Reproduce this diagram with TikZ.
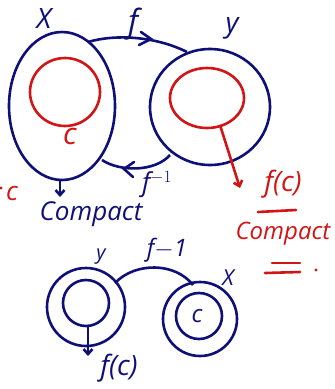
\documentclass[tikz,border=0pt]{standalone}
\usepackage{fontspec}
\setmainfont{Open Sans}
\usetikzlibrary{arrows.meta}
\definecolor{ink}{RGB}{15,15,120}
\definecolor{rd}{RGB}{210,20,20}
\newcommand{\fsz}[1]{\fontsize{#1}{#1}\selectfont\itshape}
\tikzset{
  bl/.style={draw=ink, line width=2.6pt},
  rl/.style={draw=rd, line width=2.6pt},
  lab/.style={text=ink, inner sep=0pt},
  rlab/.style={text=rd, inner sep=0pt},
  tip/.style={-{Straight Barb[length=5pt,width=9pt]}},
}
\begin{document}
\begin{tikzpicture}[x=1pt,y=-1pt]
\useasboundingbox (0,0) rectangle (335,389);
% top left X set
\draw[bl] (62,106) ellipse[x radius=53, y radius=74];
\draw[rl] (65,92) ellipse[x radius=35, y radius=34];
\node[rlab, font=\fsz{30}] (c1) at (70,136) {c};
\node[lab, font=\fsz{28}] (xl) at (44,19) {X};
% top right Y set
\draw[bl] (210,107) ellipse[x radius=60, y radius=58];
\draw[rl] (207,98) ellipse[x radius=37, y radius=30];
\node[lab, font=\fsz{28}] (yl) at (232,28) {y};
% f arrow
\coordinate (fa) at (88,42);
\coordinate (fb) at (187,52);
\draw[bl] (fa) .. controls (115,34) and (155,36) .. (fb);
\draw[bl, line cap=round] (141,32) -- (151,39) -- (139,45);
\node[lab, font=\fsz{32}] (fl) at (133,24) {f};
% f^{-1} arrow
\coordinate (ga) at (170,155);
\coordinate (gb) at (102,160);
\draw[bl] (ga) .. controls (155,172) and (120,172) .. (gb);
\draw[bl, line cap=round] (134,162) -- (124,169) -- (133,177);
\node[lab, font=\fsz{26}] (gl) at (157,185) {f$^{-1}$};
% red arrow to f(c)
\coordinate (ra) at (220,125);
\coordinate (rb) at (240,188);
\draw[rl, tip] (ra) -- (rb);
\node[rlab, font=\fsz{28}] (fc) at (283,184) {f(c)};
\draw[rl, line cap=round] (258,212) -- (296,210);
\node[rlab, font=\fsz{24}] (rc) at (283,234) {Compact};
\draw[rl, line cap=round] (272,263) -- (300,263);
\draw[rl, line cap=round] (265,273) -- (300,272);
\fill[rd] (316,270) circle (1.6);
% left red c
\node[rlab, font=\fsz{26}] (lc) at (12,194) {c};
\fill[rd] (1,188) circle (1.6);
% blue compact
\coordinate (da) at (60,181);
\coordinate (db) at (60,197);
\draw[bl, tip] (da) -- (db);
\node[lab, font=\fsz{26}] (bc) at (91,214) {Compact};
% bottom
\draw[bl] (86,307) circle (39);
\draw[bl] (86,303) circle (23);
\node[lab, font=\fsz{20}] (y2) at (101,257) {y};
\draw[bl] (200,319) circle (37);
\draw[bl] (199,316) circle (23);
\node[lab, font=\fsz{24}] (c2) at (197,316) {c};
\node[lab, font=\fsz{22}] (x2) at (228,278) {X};
\coordinate (ha) at (115,283);
\coordinate (hb) at (193,285);
\draw[bl] (ha) .. controls (135,262) and (175,262) .. (hb);
\node[lab, font=\fsz{24}] (hl) at (167,250) {f$-$1};
\coordinate (ka) at (88,326);
\coordinate (kb) at (88,356);
\draw[bl, tip] (ka) -- (kb);
\node[lab, font=\fsz{28}] (fc2) at (119,368) {f(c)};
\end{tikzpicture}
\end{document}
